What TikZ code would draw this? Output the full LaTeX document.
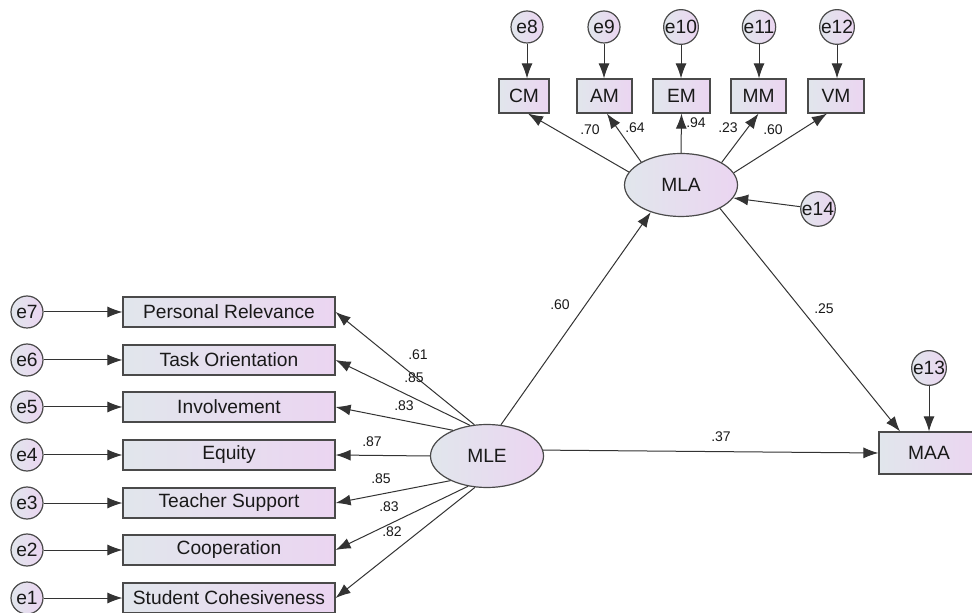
\documentclass[tikz,border=0pt]{standalone}
\usepackage{fontspec}
\setmainfont{Liberation Sans}
\usetikzlibrary{arrows.meta,shapes.geometric}
\definecolor{fillL}{HTML}{E1E6EC}
\definecolor{fillR}{HTML}{EBD5F1}
\definecolor{edge}{HTML}{4A4A4A}
\definecolor{linec}{HTML}{333333}
\tikzset{
  base/.style={draw=edge, line width=0.6pt, left color=fillL, right color=fillR, inner sep=0pt,
    font=\fontsize{9.6}{11}\selectfont, text=black!90},
  err/.style={base, circle, minimum size=16pt},
  obs/.style={base, rectangle, minimum height=15pt, minimum width=106pt},
  obst/.style={base, rectangle, minimum height=17pt},
  lat/.style={base, ellipse, minimum width=56.5pt, minimum height=31.5pt},
  path/.style={draw=linec, line width=0.5pt, -{Latex[length=7.5pt,width=5.5pt]}},
  coef/.style={font=\fontsize{7}{8}\selectfont, text=black!90, inner sep=0pt}
}
\begin{document}
\begin{tikzpicture}[x=0.5pt,y=-0.5pt]
\useasboundingbox (0,0) rectangle (972,613);
\clip (0,0) rectangle (972,613);
\fill[white] (0,0) rectangle (972,613);

% left observed variables
\foreach \n/\lab/\y in {7/Personal Relevance/312, 6/Task Orientation/360, 5/Involvement/407, 4/Equity/455, 3/Teacher Support/503, 2/Cooperation/550, 1/Student Cohesiveness/598}{
  \node[err] (e\n) at (27,\y) {e\n};
  \node[obs] (b\n) at (229,\y) {\lab};
  \draw[path] (e\n) -- (b\n);
}

% latent variables
\node[lat] (MLE) at (487,456) {MLE};
\node[lat] (MLA) at (681,185) {MLA};

% top observed
\node[obst, minimum width=25pt] (CM) at (524,96) {CM};
\node[obst, minimum width=27.5pt] (AM) at (604.5,96) {AM};
\node[obst, minimum width=28.5pt] (EM) at (681.5,96) {EM};
\node[obst, minimum width=27.5pt] (MM) at (758.5,96) {MM};
\node[obst, minimum width=28pt] (VM) at (836,96) {VM};

\node[err] (e8) at (527,27) {e8};
\node[err] (e9) at (604,27) {e9};
\node[err] (e10) at (681,27) {e10};
\node[err] (e11) at (759,27) {e11};
\node[err] (e12) at (837,27) {e12};

\draw[path] (e8) -- (e8 |- CM.north);
\draw[path] (e9) -- (e9 |- AM.north);
\draw[path] (e10) -- (e10 |- EM.north);
\draw[path] (e11) -- (e11 |- MM.north);
\draw[path] (e12) -- (e12 |- VM.north);

% MAA
\node[base, rectangle, minimum width=50pt, minimum height=21pt] (MAA) at (929,453) {MAA};
\node[err] (e13) at (929,368) {e13};
\node[err] (e14) at (818,209) {e14};

\draw[path] (e13) -- (MAA.north);
\draw[path] (e14) -- (MLA.346);

% MLA -> indicators
\draw[path] (MLA.166) -- ([xshift=2pt]CM.south);
\draw[path] (MLA.150) -- ([xshift=1.2pt]AM.south);
\draw[path] (MLA.90) -- (EM.south);
\draw[path] (MLA.29) -- (MM.south);
\draw[path] (MLA.13) -- ([xshift=-4.5pt]VM.south);

% MLE -> indicators
\draw[path] (MLE.112) -- (b7.east);
\draw[path] (MLE.119) -- (b6.east);
\draw[path] (MLE.143) -- (b5.east);
\draw[path] (MLE.180) -- (b4.east);
\draw[path] (MLE.214) -- (b3.east);
\draw[path] (MLE.238) -- (b2.east);
\draw[path] (MLE.249) -- (b1.east);

% structural paths
\draw[path] (MLE.66) -- (MLA.222);
\draw[path] (MLA.329) -- ([xshift=-14.5pt]MAA.north);
\draw[path] (MLE.6) -- (MAA.west);

% coefficients
\node[coef] (c70) at (590,130) {.70};
\node[coef] (c64) at (635,128) {.64};
\node[coef] (c94) at (696,123) {.94};
\node[coef] (c23) at (728,128) {.23};
\node[coef] (c60t) at (773,130) {.60};

\node[coef] (c61) at (418,355) {.61};
\node[coef] (c85a) at (414,378) {.85};
\node[coef] (c83a) at (404,406) {.83};
\node[coef] (c87) at (372,442) {.87};
\node[coef] (c85b) at (381,479) {.85};
\node[coef] (c83b) at (389,507) {.83};
\node[coef] (c82) at (392,532) {.82};

\node[coef] (c60) at (560,305) {.60};
\node[coef] (c25) at (824,309) {.25};
\node[coef] (c37) at (721,437) {.37};
\end{tikzpicture}
\end{document}
